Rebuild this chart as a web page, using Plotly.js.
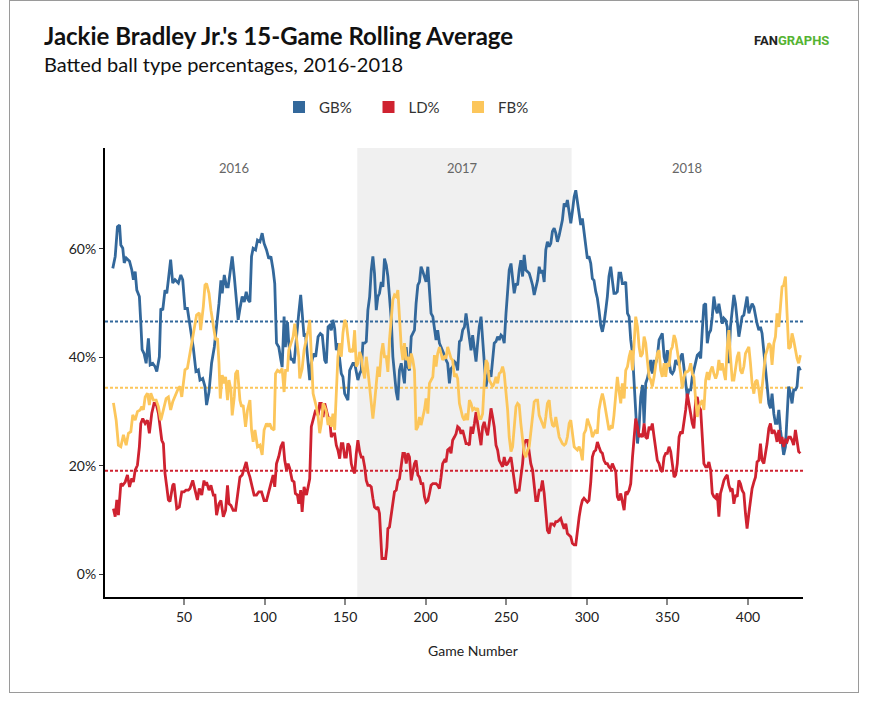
<!DOCTYPE html>
<html>
<head>
<meta charset="utf-8">
<script src="https://cdn.plot.ly/plotly-3.0.1.min.js"></script>
<style>
html,body{margin:0;padding:0;background:#fff;}
#chart{width:879px;height:706px;position:absolute;left:0;top:0;}
#frame{position:absolute;left:9px;top:0px;width:850px;height:693px;border:1px solid #9a9a9a;box-sizing:border-box;pointer-events:none;}
</style>
</head>
<body>
<div id="chart"></div>
<div id="frame"></div>
<script>
// ---------- DATA ----------
const seriesNames = ['GB%', 'LD%', 'FB%'];
const seriesColors = ['#33689b', '#cf2230', '#fcc65b'];
const seasonLabels = ['2016', '2017', '2018'];
const seasonLabelGames = [81, 223, 362];
const season2017Edges = [157.5, 290.5];
const averages = [46.6, 19.1, 34.4]; // GB, LD, FB career averages (%)
const xTickVals = [50, 100, 150, 200, 250, 300, 350, 400];
const yTickVals = [0, 20, 40, 60];
const yTickText = ['0%', '20%', '40%', '60%'];

// Ground-ball %, 2016 to early 2017 (irregular sample positions)
const gbEarlyGames = [5.8,7.3,8.7,10.0,10.8,12.0,12.9,14.1,16.2,17.6,18.6,19.7,20.7,22.3,23.2,24.0,25.2,26.5,27.9,29.0,
30.6,32.0,33.1,34.7,35.6,36.8,38.2,39.3,40.3,41.7,43.0,44.4,46.5,48.0,49.2,50.6,52.1,53.3,54.7,55.8,57.4,58.9,59.9,61.6,
63.0,64.0,65.5,67.1,68.8,70.2,71.7,72.9,73.7,75.0,76.4,77.4,78.5,79.9,81.2,82.6,83.6,84.9,86.1,87.4,
88.6,89.8,90.9,91.9,92.9,94.4,95.6,97.1,98.5,99.7,101.2,102.6,103.9,105.3,106.3,107.4,108.8,110.1,110.9,112.1,
112.9,114.2,115.0,116.3,117.1,118.3,119.1,120.4,121.2,122.4,123.3,124.5,125.3,126.6,
128.0,129.0,130.5,131.7,133.2,134.6,135.8,137.3,138.3,139.4,140.4,141.4,142.4,143.5,144.5,145.5,146.6,147.6,148.6,149.7,
150.7,151.7,152.8,153.8,154.8,155.9,156.9,157.9,159.0,160.0,161.0,162.1,163.1,164.1,165.2,166.2,167.2,168.2,169.3,170.3,
171.3,172.4,173.4,174.4,175.5,176.5,177.5,178.6,179.6,180.6,181.7,182.7,183.7,184.8,185.8,186.8,187.9,188.9,189.9,191.0,192.0];
const gbEarlyValues = [56.4,58.6,64.1,64.4,60.7,60.1,57.4,58.3,57.7,56.1,54.3,55.8,52.4,51.2,46.3,41.4,40.7,38.9,43.5,38.6,
38.9,38.3,37.4,40.1,49.0,48.7,52.4,51.8,54.3,58.0,53.7,54.3,53.7,55.2,54.3,49.0,49.0,46.9,44.4,41.7,37.4,37.7,35.8,36.1,
34.6,31.2,33.6,38.9,41.9,45.6,49.9,54.2,51.8,55.2,53.0,53.0,55.8,58.6,54.9,50.6,46.9,49.3,51.2,50.2,
52.1,50.6,50.2,58.6,60.1,59.8,61.6,61.3,62.9,61.0,59.8,58.2,58.6,56.1,53.6,42.6,41.9,39.5,38.2,47.5,
41.9,46.5,42.6,39.5,39.8,38.9,41.9,45.6,48.1,51.5,48.7,43.8,44.4,40.1,
35.8,38.9,40.7,40.1,43.8,44.4,44.1,39.5,38.9,45.6,45.9,45.0,46.9,45.3,41.3,42.6,40.1,37.0,36.4,33.3,
32.7,32.1,37.6,38.2,38.9,38.9,37.3,35.8,37.0,37.6,42.6,42.6,42.9,48.7,51.2,56.1,58.6,55.5,48.7,51.2,
51.8,53.9,53.0,58.2,57.0,54.9,51.2,46.9,40.1,37.0,33.6,32.1,37.6,38.9,37.0,35.2,41.9,38.2,37.6,43.8,44.4];

// Line-drive %, 2016 to early 2017
const ldEarlyGames = [6.2,7.3,8.3,9.3,10.8,12.0,13.5,14.9,16.2,17.6,18.6,19.7,21.1,22.3,23.2,24.4,25.9,27.3,28.5,30.0,
31.4,32.7,34.1,35.1,36.2,37.2,38.2,39.3,40.3,41.3,43.0,43.8,45.5,47.1,48.6,50.0,51.2,52.7,53.7,55.4,56.8,58.3,59.5,61.0,62.4,
63.0,64.0,65.5,66.7,68.2,69.2,70.2,71.7,72.9,74.4,75.8,77.0,77.9,79.1,80.5,82.0,83.2,84.7,86.1,87.4,
88.6,89.8,90.9,92.3,93.5,95.0,96.4,98.1,99.7,101.2,102.2,103.9,105.3,106.3,107.4,108.8,110.1,111.5,112.5,113.6,
114.6,115.6,117.1,118.3,119.1,120.4,121.2,122.4,123.3,124.5,126.0,127.4,
128.0,129.0,130.5,131.7,133.2,134.2,135.2,136.3,137.3,138.3,139.4,140.4,141.4,142.4,143.5,144.5,145.5,146.6,147.6,148.6,
149.7,150.7,151.7,152.8,153.8,154.8,155.9,156.9,157.9,159.0,160.0,161.0,162.1,163.1,164.1,165.2,166.2,167.2,168.2,169.3,
170.3,171.3,172.0,172.8,173.8,175.1,175.9,176.5,177.5,178.6,179.6,180.6,181.7,182.7,183.7,184.8,185.8,186.8,187.9,188.9,
189.9,191.0,192.0];
const ldEarlyValues = [12.1,10.6,13.7,10.9,16.7,16.4,17.0,18.3,16.1,17.7,17.0,19.2,20.1,23.5,27.8,28.7,27.8,28.4,26.0,29.7,
31.5,31.5,29.7,27.2,24.7,24.1,18.6,16.1,13.7,13.4,16.4,16.7,12.1,12.4,15.2,15.2,15.5,15.5,15.8,17.3,15.5,13.7,15.8,14.6,17.3,
16.4,17.0,15.5,16.4,14.6,14.6,10.9,13.0,13.6,10.6,11.8,16.4,13.0,12.7,11.8,11.8,14.6,17.9,18.3,19.8,
20.7,18.9,17.9,16.1,14.6,14.6,15.2,15.2,13.6,13.6,14.9,16.7,18.3,16.1,20.4,21.7,23.5,24.4,21.0,19.2,
20.4,19.5,17.3,17.0,14.9,14.6,13.0,15.5,11.5,16.1,14.6,17.0,
17.6,27.2,29.0,30.3,29.3,31.5,31.5,29.0,31.5,30.3,29.0,28.4,25.3,25.9,25.9,23.8,22.9,21.3,24.1,24.1,
21.6,21.6,24.1,23.5,20.4,19.2,18.6,22.3,24.7,22.6,21.6,21.6,19.8,17.3,16.4,16.4,16.1,14.0,12.4,12.1,
12.4,11.2,6.9,2.9,2.9,2.9,5.0,8.4,8.7,11.2,13.0,15.2,15.5,17.3,17.6,20.4,22.3,22.3,20.4,22.3,
21.6,17.3,19.2];

// Fly-ball %, 2016 to early 2017
const fbEarlyGames = [6.2,7.9,9.3,10.8,12.4,14.1,15.5,17.0,18.2,19.7,21.1,22.8,23.8,24.8,25.9,27.3,28.5,29.4,31.0,32.7,
34.1,35.6,37.2,38.9,40.3,41.7,43.0,44.4,46.5,47.5,48.6,49.6,50.6,52.1,53.7,55.4,56.8,57.8,59.5,60.3,62.0,
63.0,64.0,65.5,66.7,68.2,69.6,70.8,71.7,72.5,73.7,75.0,75.8,77.0,77.9,79.1,79.9,81.2,82.0,83.2,84.7,
85.7,86.7,88.2,89.4,90.9,91.9,92.9,94.0,95.6,97.1,98.5,99.7,101.2,102.2,103.2,104.3,105.9,106.8,108.0,109.4,
110.9,112.1,113.0,114.2,115.0,116.3,117.7,118.7,119.8,121.2,121.8,123.3,124.5,126.0,127.0,
128.0,129.0,130.1,131.1,132.1,133.2,134.2,135.2,136.3,137.3,138.3,139.4,140.4,141.4,142.4,143.5,144.5,145.5,146.6,147.6,
148.6,149.7,150.7,151.7,152.8,153.8,154.8,155.9,156.9,157.9,159.0,160.0,161.0,162.1,163.1,164.1,165.2,166.2,167.2,168.2,
169.3,170.3,171.3,172.4,173.4,174.4,175.5,176.5,177.5,178.6,179.6,180.6,181.7,182.7,183.7,184.8,185.8,186.8,187.9,188.9,
189.9,191.0,192.0];
const fbEarlyValues = [31.6,28.4,23.8,23.5,25.7,23.8,26.0,26.3,29.4,28.4,30.0,30.3,30.9,30.3,32.7,33.4,31.2,33.4,32.1,32.1,
30.9,28.4,30.3,32.4,32.7,30.3,31.8,32.7,34.3,34.6,32.7,35.2,37.7,38.0,40.7,43.2,45.7,47.8,48.2,45.0,49.4,
53.3,53.6,51.8,48.7,45.6,43.2,43.5,38.9,32.4,36.7,35.2,36.4,32.1,35.8,34.0,29.3,32.7,37.0,37.6,32.1,
30.9,31.2,27.2,30.3,32.1,26.6,24.4,26.6,23.5,23.8,22.0,26.6,27.8,27.2,27.8,26.9,26.6,37.0,37.6,37.3,
37.9,33.6,37.6,37.6,41.3,42.6,43.8,46.2,43.2,40.1,36.1,37.9,41.3,43.2,45.0,
46.9,41.3,33.3,32.1,30.9,29.0,26.0,27.8,31.5,30.9,30.0,27.5,29.0,27.2,29.6,26.6,35.2,40.1,42.6,40.1,
44.4,46.9,46.2,43.8,41.0,41.3,41.0,45.0,38.3,38.9,41.0,40.1,37.6,36.1,40.1,37.6,33.9,30.9,28.7,31.5,
35.8,38.3,36.4,40.7,42.6,40.1,40.1,37.3,43.2,47.5,50.6,51.5,51.2,52.4,46.9,41.9,39.5,42.6,39.5,40.1,
37.9,40.7,39.5];

// Game positions shared by all three series, mid-2017 to end of 2018
const lateGames = [193.0,194.0,195.1,196.1,197.1,198.2,199.2,200.2,201.3,202.3,203.3,204.4,205.4,206.4,207.4,208.5,209.5,210.5,211.6,212.6,
213.6,214.7,215.7,216.7,217.8,218.8,219.8,220.9,221.9,222.9,224.0,225.0,226.0,227.1,228.1,229.1,230.2,231.2,232.2,233.2,
234.3,235.3,236.3,237.4,238.4,239.4,240.5,241.5,242.5,243.6,244.6,245.6,246.7,247.7,248.7,249.8,250.8,251.8,252.9,253.9,
254.9,256.0,257.0,
258.0,259.0,260.1,261.1,262.1,263.2,264.2,265.2,266.3,267.3,268.3,269.4,270.4,271.4,272.4,273.5,274.5,275.5,276.6,277.6,
278.6,279.7,280.7,281.7,282.8,283.8,284.8,285.9,286.9,287.9,289.0,290.0,291.0,292.1,293.1,294.1,295.2,296.2,297.2,298.2,
299.3,300.3,301.3,302.4,303.4,304.4,305.5,306.5,307.5,308.6,309.6,310.6,311.7,312.7,313.7,314.8,315.8,316.8,317.9,318.9,
319.9,321.0,322.0,
323.1,324.1,325.2,326.2,327.2,328.3,329.3,330.3,331.4,332.4,333.4,334.5,335.5,336.5,337.5,338.6,339.6,340.6,341.7,342.7,
343.7,344.8,345.8,346.8,347.9,348.9,349.9,351.0,352.0,353.0,354.1,355.1,356.1,357.2,358.2,359.2,360.3,361.3,362.3,363.3,
364.4,365.4,366.4,367.5,368.5,369.5,370.6,371.6,372.6,373.7,374.7,375.7,376.8,377.8,378.8,379.9,380.9,
381.9,382.9,384.0,385.0,386.0,387.1,388.1,389.1,390.2,391.2,392.2,393.3,394.3,395.3,396.3,397.4,398.4,399.4,400.5,401.5,
402.5,403.6,404.6,405.6,406.7,407.7,408.7,409.8,410.8,411.8,412.9,413.9,414.9,416.0,417.0,418.0,419.1,420.1,421.1,422.1,
423.2,424.2,425.2,426.3,427.3,428.3,429.4,430.4,431.4,432.5];

const gbLateValues = [45.0,49.9,53.3,53.9,56.7,55.8,54.9,53.9,56.7,53.0,48.1,47.5,45.6,43.2,45.0,42.6,41.9,41.3,40.4,39.5,
38.9,35.2,37.9,38.2,39.2,38.9,37.6,42.9,43.2,45.0,45.6,48.1,45.6,43.8,41.3,44.1,41.9,39.2,42.6,45.6,
47.5,43.8,38.9,34.6,36.4,37.6,36.4,39.5,42.6,42.9,43.8,43.2,44.1,43.8,42.6,48.1,53.0,56.1,57.3,54.2,
51.8,53.6,53.3,
56.1,57.9,54.9,58.9,56.1,55.8,55.5,54.5,53.3,51.5,52.7,54.2,56.7,55.5,56.1,53.9,59.8,61.3,60.4,61.0,
63.2,63.8,62.9,61.3,62.5,64.1,65.3,68.4,67.8,69.0,66.5,64.7,66.9,69.6,70.8,69.0,66.5,64.4,65.6,63.5,
61.0,58.2,58.6,57.3,54.5,54.2,52.1,50.9,48.7,45.9,44.7,46.2,48.7,51.2,54.9,56.7,54.2,51.8,51.8,52.1,
55.5,55.5,53.6,
53.6,53.9,48.1,47.5,43.2,40.7,34.6,29.0,24.1,27.2,32.7,34.9,27.8,35.2,36.1,37.6,39.5,37.0,39.5,38.9,
40.1,43.2,43.8,44.4,40.1,38.9,41.3,38.9,37.3,37.0,37.6,39.5,38.9,38.6,40.1,40.7,37.6,35.8,32.7,34.0,
34.0,36.4,37.9,38.9,40.4,40.7,39.8,45.0,49.6,49.9,42.6,44.4,45.0,47.5,51.2,49.0,48.1,
49.9,48.1,46.2,47.2,46.9,45.6,38.9,45.6,48.7,51.5,49.9,46.2,43.8,45.6,47.5,47.8,49.3,51.2,48.1,49.0,
49.9,49.3,47.5,46.2,45.0,45.6,44.4,41.3,37.6,34.6,31.5,30.6,33.3,29.6,27.8,27.8,30.3,26.6,24.1,22.0,
23.5,28.4,34.6,33.3,31.5,34.0,34.0,34.6,38.3,37.6];

const ldLateValues = [20.4,21.0,18.3,17.9,16.7,16.7,14.3,13.3,13.6,14.9,16.4,16.7,16.7,16.7,16.4,15.8,17.9,20.4,21.0,20.7,
22.9,23.2,22.3,24.7,25.3,25.9,27.2,26.9,25.9,26.6,25.3,24.1,24.1,23.8,27.2,25.9,27.8,29.9,27.8,25.9,
23.8,27.2,28.1,26.6,25.6,27.8,30.6,29.0,27.2,23.8,22.9,21.0,20.4,19.8,21.6,20.1,20.4,21.0,21.6,19.5,
16.7,14.9,15.5,
15.5,17.9,20.4,24.1,24.7,24.7,22.3,20.4,19.2,16.1,13.6,13.6,15.5,15.5,17.3,14.9,11.2,8.1,7.5,9.3,
9.3,9.0,9.7,9.7,10.0,10.3,9.3,8.4,9.3,7.5,7.2,6.9,5.7,5.4,5.4,8.4,10.6,12.4,13.6,14.0,
13.6,13.3,13.6,17.0,21.6,22.6,22.9,24.4,23.5,22.6,22.3,21.0,20.4,20.4,19.8,19.5,20.4,19.8,18.9,14.3,
13.6,14.9,13.6,
11.8,15.2,14.9,15.5,16.7,21.6,25.9,28.7,27.2,25.3,25.9,25.3,27.8,25.3,25.0,27.2,26.6,27.8,25.3,23.5,
21.0,20.4,19.2,18.9,21.6,22.3,22.3,23.5,22.6,20.4,17.9,18.3,20.4,25.3,26.3,25.9,27.8,30.3,33.3,31.5,
29.0,27.8,26.9,32.1,32.7,30.9,30.3,25.9,20.4,19.8,19.8,20.7,19.2,14.9,14.3,14.0,14.9,
10.6,14.9,16.1,17.3,17.9,18.3,16.4,15.5,15.8,13.0,14.6,14.3,17.3,16.7,15.5,14.9,11.2,8.4,11.2,13.6,
15.8,17.0,17.9,20.7,21.0,24.1,21.0,20.4,21.9,24.1,26.9,27.8,25.9,26.6,25.9,24.4,26.6,24.1,25.3,23.5,
24.7,24.4,25.3,25.3,24.7,23.8,26.6,24.9,22.6,22.3];

const fbLateValues = [37.6,26.6,27.2,29.0,27.5,29.0,30.3,32.4,29.6,35.2,35.8,36.4,40.4,38.3,40.7,41.9,40.7,39.5,40.1,39.8,
41.9,40.7,39.8,39.5,36.4,37.0,36.1,31.5,30.3,29.0,28.4,29.6,28.4,32.1,31.5,30.3,30.6,30.3,30.6,28.7,
28.7,29.6,35.2,39.5,38.9,35.8,35.2,34.6,35.2,36.4,35.2,37.0,37.3,38.3,37.0,33.9,30.3,25.3,22.6,23.5,
27.8,30.9,31.5,
31.2,27.8,24.7,22.3,21.6,22.9,23.5,26.6,29.6,31.8,32.1,32.1,29.3,28.4,27.8,26.9,29.0,31.5,32.1,29.0,
27.5,27.2,29.0,27.2,25.3,24.7,24.1,23.8,24.1,25.3,27.8,28.4,25.9,23.5,23.2,22.9,23.5,22.6,21.0,25.9,
26.6,28.7,27.8,26.9,25.3,25.9,26.6,25.9,30.3,32.1,33.3,32.1,30.3,28.7,26.6,27.2,26.9,29.3,33.9,36.4,
33.9,31.5,35.2,
32.4,37.6,38.3,40.1,41.3,37.6,43.2,47.5,45.6,41.9,40.1,40.7,43.8,42.6,39.5,36.4,35.8,34.6,36.4,38.3,
40.7,41.3,37.6,36.4,38.9,36.4,38.9,38.3,41.3,41.9,44.1,43.2,41.3,38.9,37.0,34.3,36.4,37.3,37.3,37.6,
38.9,37.0,36.4,32.1,29.0,30.9,31.5,32.1,30.3,35.8,37.3,35.8,37.6,38.3,37.0,36.1,37.0,
39.5,37.6,38.9,37.3,35.8,41.9,45.0,40.1,35.8,35.8,37.6,40.1,41.0,37.6,37.0,38.3,40.7,41.3,41.9,38.9,
35.2,33.3,35.5,35.8,34.0,31.5,34.3,37.6,40.4,41.3,42.6,42.2,38.6,42.6,43.8,48.1,45.6,49.3,53.0,53.3,
54.9,48.1,41.6,41.9,44.4,43.2,41.0,39.8,38.9,40.4];

// ---------- BUILD ----------
const seriesGames = [
  gbEarlyGames.concat(lateGames),
  ldEarlyGames.concat(lateGames),
  fbEarlyGames.concat(lateGames)
];
const seriesValues = [
  gbEarlyValues.concat(gbLateValues),
  ldEarlyValues.concat(ldLateValues),
  fbEarlyValues.concat(fbLateValues)
];

const traces = [];
for (let i = 0; i < 3; i++) {
  traces.push({
    x: seriesGames[i], y: seriesValues[i], type: 'scatter', mode: 'lines',
    line: {color: seriesColors[i], width: 2.8}, showlegend: false, hoverinfo: 'skip'
  });
}
for (let i = 0; i < 3; i++) {
  traces.push({
    x: [null], y: [null], type: 'scatter', mode: 'markers', name: seriesNames[i],
    marker: {symbol: 'square', size: 12, color: seriesColors[i]}, showlegend: true
  });
}

const shapes = [{
  type: 'rect', xref: 'x', yref: 'paper', x0: season2017Edges[0], x1: season2017Edges[1], y0: 0, y1: 1,
  fillcolor: '#f0f0f0', line: {width: 0}, layer: 'below'
}];
for (let i = 0; i < 3; i++) {
  shapes.push({
    type: 'line', xref: 'paper', yref: 'y', x0: 0, x1: 1, y0: averages[i], y1: averages[i],
    line: {color: seriesColors[i], width: 2, dash: '3px,2px'}, layer: 'below'
  });
}

const annotations = [
  {text: 'Batted ball type percentages, 2016-2018', xref: 'paper', yref: 'paper', x: -0.0903, y: 1.188,
   xanchor: 'left', yanchor: 'middle', showarrow: false, font: {family: 'Lato', size: 20, color: '#111'}},
  {text: 'Game Number', xref: 'paper', yref: 'paper', x: 0.527, y: -0.12, xanchor: 'center', yanchor: 'middle',
   showarrow: false, font: {family: 'Lato', size: 14, color: '#222'}},
  {text: '<span style="color:#222">FAN</span><span style="color:#55b332">GRAPHS</span>', xref: 'paper', yref: 'paper',
   x: 0.983, y: 1.2405, xanchor: 'center', yanchor: 'middle', showarrow: false,
   font: {family: 'Roboto', size: 13, weight: 700}}
];
for (let i = 0; i < seasonLabels.length; i++) {
  annotations.push({text: seasonLabels[i], xref: 'x', yref: 'paper', x: seasonLabelGames[i], y: 0.955,
    xanchor: 'center', yanchor: 'middle', showarrow: false, font: {family: 'Lato', size: 13, color: '#666'}});
}

const layout = {
  width: 879, height: 706,
  margin: {l: 105, r: 76, t: 148, b: 109},
  paper_bgcolor: '#ffffff', plot_bgcolor: '#ffffff',
  font: {family: 'Lato, sans-serif', color: '#333'},
  title: {text: "Jackie Bradley Jr.'s 15-Game Rolling Average", xref: 'container', yref: 'container',
    x: 44 / 879, xanchor: 'left', y: 1 - 37 / 706, yanchor: 'middle',
    font: {family: 'Lato', size: 24, weight: 700, color: '#111'}},
  showlegend: true,
  legend: {orientation: 'h', xref: 'paper', yref: 'paper', x: 0.2493, xanchor: 'left', y: 1.091, yanchor: 'middle',
    font: {family: 'Lato', size: 15, color: '#333'}, itemwidth: 30, entrywidth: 44.5, entrywidthmode: 'pixels',
    bgcolor: 'rgba(0,0,0,0)'},
  xaxis: {range: [0.97, 434.1], tickvals: xTickVals, ticks: 'outside', ticklen: 6, tickwidth: 2, tickcolor: '#888',
    showline: true, linecolor: '#000', linewidth: 2, showgrid: false, zeroline: false,
    tickfont: {family: 'Lato', size: 14, color: '#222'}, fixedrange: true},
  yaxis: {range: [-4.2, 78.6], tickvals: yTickVals, ticktext: yTickText, ticks: 'outside', ticklen: 4, tickwidth: 1,
    tickcolor: '#333', showline: true, linecolor: '#000', linewidth: 2, showgrid: false, zeroline: false,
    tickfont: {family: 'Lato', size: 14, color: '#222'}, fixedrange: true},
  shapes: shapes,
  annotations: annotations
};

Plotly.newPlot('chart', traces, layout, {displayModeBar: false, staticPlot: true});
</script>
</body>
</html>
